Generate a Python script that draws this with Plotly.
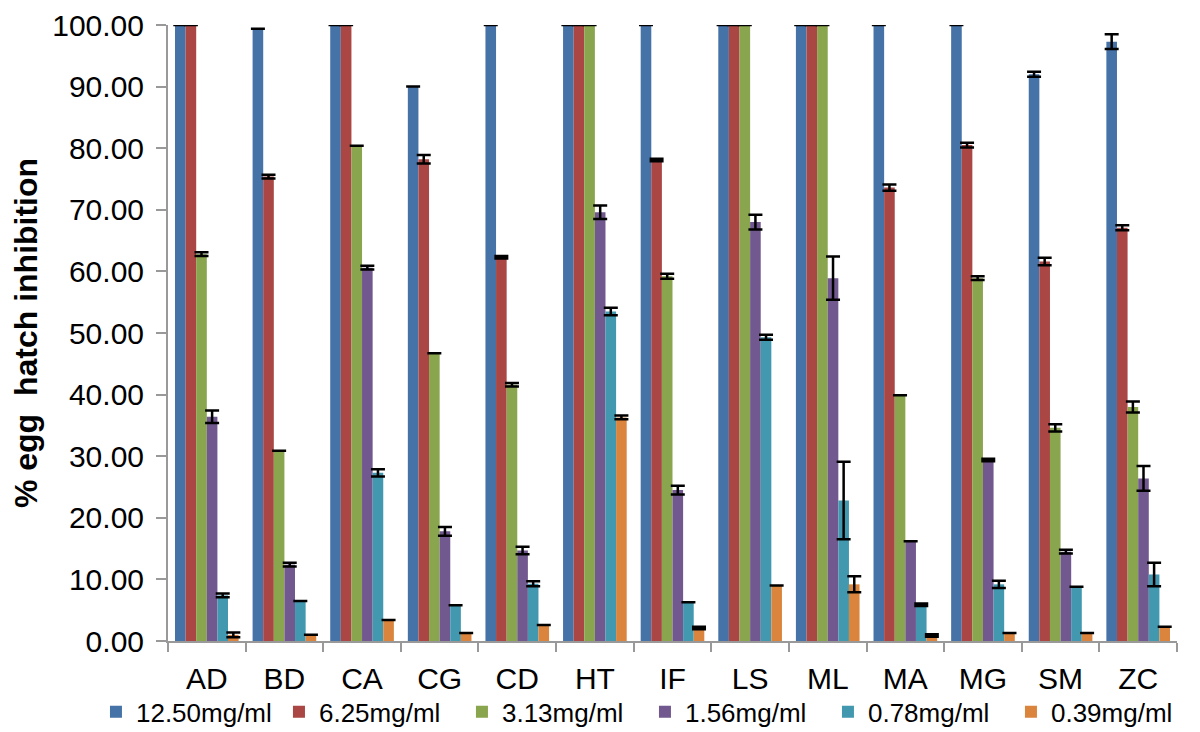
import plotly.graph_objects as go

categories = ["AD", "BD", "CA", "CG", "CD", "HT", "IF", "LS", "ML", "MA", "MG", "SM", "ZC"]
series_names = ["12.50mg/ml", "6.25mg/ml", "3.13mg/ml", "1.56mg/ml", "0.78mg/ml", "0.39mg/ml"]
colors = ["#4572A7", "#AA4643", "#89A54E", "#71588F", "#4198AF", "#DB843D"]

conc_12_50 = [100, 99.4, 100, 90.0, 100, 100, 100, 100, 100, 100, 100, 92.0, 97.3]
conc_6_25 = [100, 75.4, 100, 78.2, 62.3, 100, 78.1, 100, 100, 73.6, 80.5, 61.6, 67.1]
conc_3_13 = [62.8, 30.9, 80.4, 46.7, 41.6, 100, 59.2, 100, 100, 39.9, 58.9, 34.6, 38.0]
conc_1_56 = [36.4, 12.4, 60.6, 17.8, 14.7, 69.6, 24.5, 68.0, 58.9, 16.2, 29.4, 14.5, 26.4]
conc_0_78 = [7.4, 6.5, 27.3, 5.8, 9.3, 53.5, 6.3, 49.3, 22.8, 5.9, 9.2, 8.8, 10.8]
conc_0_39 = [1.0, 1.0, 3.4, 1.3, 2.6, 36.3, 2.1, 9.0, 9.2, 0.9, 1.3, 1.3, 2.3]

err_12_50 = [0, 0, 0, 0, 0, 0, 0, 0, 0, 0, 0, 0.4, 1.2]
err_6_25 = [0, 0.3, 0, 0.7, 0.2, 0, 0.2, 0, 0, 0.5, 0.4, 0.6, 0.4]
err_3_13 = [0.3, 0, 0, 0, 0.3, 0, 0.4, 0, 0, 0, 0.3, 0.6, 0.9]
err_1_56 = [1.0, 0.3, 0.3, 0.7, 0.6, 1.1, 0.7, 1.2, 3.5, 0, 0.2, 0.3, 2.0]
err_0_78 = [0.3, 0, 0.6, 0, 0.4, 0.6, 0, 0.4, 6.3, 0.2, 0.6, 0, 1.9]
err_0_39 = [0.4, 0, 0, 0, 0, 0.3, 0.2, 0, 1.3, 0.2, 0, 0, 0]

values = [conc_12_50, conc_6_25, conc_3_13, conc_1_56, conc_0_78, conc_0_39]
errors = [err_12_50, err_6_25, err_3_13, err_1_56, err_0_78, err_0_39]

fig = go.Figure()
for name, color, vals, errs in zip(series_names, colors, values, errors):
    fig.add_trace(go.Bar(
        x=categories, y=vals, name=name,
        marker=dict(color=color, line=dict(width=0)),
        error_y=dict(type="data", array=errs, visible=True,
                     color="black", thickness=2.5, width=7),
    ))

font_family = "Liberation Sans, Arial, Helvetica, sans-serif"
fig.update_layout(
    width=1200, height=732,
    barmode="group", bargap=0.18, bargroupgap=0,
    plot_bgcolor="white", paper_bgcolor="white",
    margin=dict(l=160, r=31, t=17, b=99, autoexpand=False),
    font=dict(family=font_family, color="black"),
    showlegend=True,
    legend=dict(orientation="h", x=-0.0714, xanchor="left",
                y=-0.115, yanchor="middle",
                font=dict(size=26, family=font_family), itemwidth=30,
                entrywidth=138, entrywidthmode="pixels",
                traceorder="normal", tracegroupgap=0, bgcolor="rgba(0,0,0,0)"),
    xaxis=dict(
        type="category", showline=True, linecolor="#999999", linewidth=2,
        ticks="outside", tickson="boundaries", ticklen=9, tickwidth=2, tickcolor="#999999",
        tickfont=dict(size=30, family=font_family), ticklabelstandoff=10,
        showgrid=False,
    ),
    yaxis=dict(
        range=[0, 100], dtick=10, tickformat=".2f",
        showline=True, linecolor="#999999", linewidth=2,
        ticks="outside", ticklen=10, tickwidth=2, tickcolor="#999999",
        tickfont=dict(size=30, family=font_family), ticklabelstandoff=6,
        ticklabeloverflow="allow",
        showgrid=False, zeroline=False,
        title=dict(text="<b>%\u00a0egg\u00a0\u00a0hatch inhibition</b>",
                   font=dict(size=32, family=font_family), standoff=6),
    ),
)

fig.write_html("out.html")
